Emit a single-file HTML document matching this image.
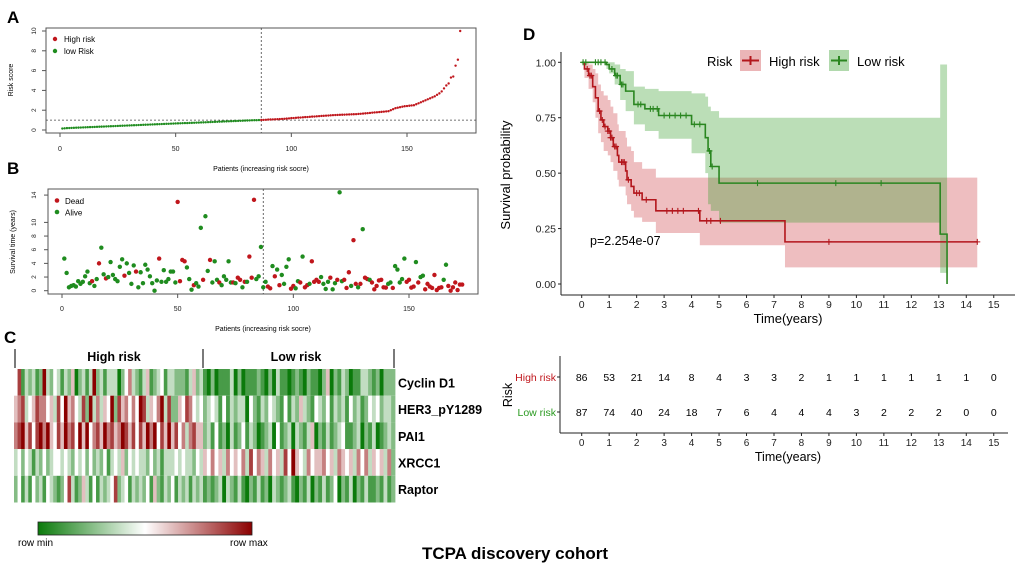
<!DOCTYPE html>
<html><head><meta charset="utf-8"><style>
body{margin:0;background:#fff}
svg{display:block;font-family:"Liberation Sans",Arial,sans-serif}
</style></head><body>
<svg id="fig" width="1020" height="570" viewBox="0 0 1020 570" xmlns="http://www.w3.org/2000/svg">
<rect width="1020" height="570" fill="#fff"/>
<g id="gA"></g>
<g id="gB"></g>
<g id="gC"></g>
<g id="gD"></g>
<g id="gT"></g>
<text x="515" y="559" text-anchor="middle" font-size="17" font-weight="bold">TCPA discovery cohort</text>
</svg>
<script>
// ---------- data ----------
const riskScores=[0.15,0.17,0.19,0.2,0.21,0.22,0.23,0.24,0.25,0.26,0.27,0.28,0.29,0.3,0.31,0.32,0.33,0.34,0.35,0.36,0.37,0.38,0.39,0.4,0.41,0.42,0.43,0.44,0.45,0.46,0.47,0.48,0.49,0.5,0.51,0.52,0.53,0.54,0.55,0.56,0.57,0.58,0.59,0.6,0.61,0.62,0.63,0.64,0.65,0.66,0.67,0.68,0.69,0.7,0.7,0.71,0.72,0.73,0.74,0.75,0.76,0.77,0.78,0.79,0.8,0.81,0.82,0.83,0.84,0.85,0.86,0.87,0.88,0.89,0.9,0.91,0.92,0.93,0.94,0.95,0.96,0.97,0.98,0.99,0.99,1.0,
1.01,1.02,1.03,1.05,1.06,1.07,1.08,1.09,1.1,1.12,1.13,1.15,1.17,1.2,
1.21,1.23,1.25,1.26,1.28,1.3,1.31,1.33,1.35,1.36,1.38,1.4,1.42,1.43,1.45,1.46,1.48,1.5,
1.51,1.52,1.53,1.54,1.55,1.56,1.57,1.58,1.59,1.6,
1.62,1.64,1.66,1.68,1.7,1.72,1.75,1.77,1.79,1.81,1.83,1.85,1.88,1.9,
2.0,2.1,2.2,2.25,2.3,2.35,2.4,2.42,2.45,2.48,2.5,
2.6,2.7,2.8,2.9,3.0,3.1,3.2,3.3,3.4,3.55,3.7,3.9,4.2,4.5,4.7,5.3,5.4,6.5,7.1,10];
const cutoffIndex=87;
const cutoffScore=1.0;
const xTicksA=[0,50,100,150];
const yTicksA=[0,2,4,6,8,10];
const survTimes=[4.7,2.6,.5,.7,.8,.6,1.4,1.0,1.3,2.1,2.8,1.1,1.4,.7,1.7,4.0,6.3,2.4,1.8,2.0,4.2,2.3,1.7,1.4,3.5,4.6,2.2,4.0,2.6,1.0,3.7,2.8,.5,2.7,1.1,3.8,3.1,2.1,1.1,0,1.5,4.7,1.3,3.0,1.3,1.7,2.8,2.8,1.2,13,1.4,4.5,4.3,3.4,1.7,.15,.8,1.1,.6,9.2,1.6,10.9,2.9,4.5,1.2,4.3,1.6,1.2,.8,2.1,1.6,4.3,1.2,1.2,1.1,1.9,1.6,.5,1.3,1.3,5.0,1.9,13.3,1.7,2.1,6.4,.5,
1.3,.6,.35,3.6,2.1,3.1,.8,2.3,1.0,3.5,4.6,.3,.7,.35,1.4,1.2,5.0,.5,.8,1.0,4.3,1.3,1.6,1.3,2.0,1.0,.25,1.3,1.9,.2,1.1,1.6,14.4,1.4,1.6,.4,2.7,.7,7.4,1.0,.5,1.0,9.0,1.9,1.7,1.6,1.2,.2,.7,1.5,1.6,.5,.45,1.0,1.2,.4,3.6,3.1,1.2,1.7,4.7,1.3,1.6,.45,.6,4.2,1.2,2.0,2.2,.2,1.0,.6,.4,2.3,.1,.4,.5,1.6,3.8,.7,0,.5,1.2,.1,.9,.9];
const survStatus=(
"aaaaaaaaaa"+"aadaadaada"+"aaaaaadaaa"+"adaaaaaaaa"+"adaaaaaaad"+"dddaaadaaa"+"daadaaadaa"+"aaadaddada"+"dddaaaa"+
"addadadaaa"+"addaadadda"+"ddddaaaada"+"adaadddadd"+"adaddadddd"+"dddaadaaaa"+"addddadaad"+"dddddddaad"+"dddddd").split("");
const yTicksB=[0,2,4,6,8,10,14];
const heatGenes=["Cyclin D1","HER3_pY1289","PAI1","XRCC1","Raptor"];
const heatRows=[
"47132312832431325023138231333024632135123413322213523|10201113020111210203110121021102502132011332120222",
"56734576645374856437283635482756464873546837225476434|23431413233042132432141325321432413231423124342332",
"67857478685475867485846758675687574758684758574636755|23141203124132012304123032135021312341123021301232",
"34243132423443432434242324134352434332423133343433243|54645364546374653645374854364556453654536463545362",
"24131423143212473125314132347234132324152132413231323|12123032131021312032123102130213124021302131121312"];
const hiT=[0,0.1,0.25,0.4,0.5,0.6,0.7,0.8,0.95,1.05,1.15,1.3,1.35,1.6,1.65,1.8,1.9,2.2,2.7,4.3,7.4];
const hiS=[1,.97,.94,.89,.84,.78,.74,.71,.69,.66,.62,.58,.55,.51,.47,.44,.41,.38,.33,.285,.19];
const hiUp=[1,1,.99,.97,.95,.9,.87,.85,.83,.8,.77,.72,.69,.66,.62,.6,.55,.52,.48,.48,.48];
const hiLo=[1,.93,.88,.82,.75,.68,.64,.6,.58,.55,.51,.47,.44,.4,.36,.33,.3,.28,.23,.175,.075];
const hiEnd=14.4;
const loT=[0,0.9,1.0,1.2,1.4,1.6,1.9,2.3,2.8,4.0,4.5,4.6,4.7,5.0,13.05,13.3];
const loS=[1,.99,.97,.94,.90,.87,.81,.79,.76,.72,.66,.60,.53,.455,.225,0];
const loUp=[1,1,1,.99,.97,.96,.89,.88,.87,.86,.845,.8,.78,.75,.99,.99];
const loLo=[1,.97,.95,.9,.83,.78,.72,.69,.655,.59,.5,.36,.33,.277,.05,0];
const loEnd=13.3;
const hiCens=[0.2,0.3,0.35,0.65,0.75,0.85,0.95,1.0,1.05,1.1,1.2,1.25,1.45,1.5,1.55,1.7,2.0,2.1,2.35,3.1,3.3,3.5,3.7,4.25,4.55,4.7,5.05,9.0,14.4];
const loCens=[0.05,0.15,0.5,0.6,0.7,0.85,1.1,1.25,1.3,1.45,1.5,2.05,2.15,2.5,2.6,2.75,3.0,3.2,3.4,3.6,3.8,4.1,4.3,4.65,4.75,6.4,9.25,10.9];
const kmXTicks=[0,1,2,3,4,5,6,7,8,9,10,11,12,13,14,15];
const kmYTicks=[0,0.25,0.5,0.75,1];
const atRiskHigh=[86,53,21,14,8,4,3,3,2,1,1,1,1,1,1,0];
const atRiskLow=[87,74,40,24,18,7,6,4,4,4,3,2,2,2,0,0];

// ---------- helpers ----------
const NS="http://www.w3.org/2000/svg";
function mk(parent,tag,attrs,txt){const e=document.createElementNS(NS,tag);for(const k in attrs)e.setAttribute(k,attrs[k]);if(txt!==undefined)e.textContent=txt;parent.appendChild(e);return e;}
const RED="#c0161c",GREEN="#1f8c1f";

// ---------- Panel A ----------
(function(){
const g=document.getElementById('gA');
const xA=i=>60+i*2.3133, yA=v=>130-v*9.9;
mk(g,'text',{x:7,y:23,'font-size':17,'font-weight':'bold',},'A');
mk(g,'rect',{x:46,y:28,width:430,height:105,fill:'none',stroke:'#555','stroke-width':1,});
xTicksA.forEach(t=>{mk(g,'line',{x1:xA(t),x2:xA(t),y1:133,y2:137,stroke:'#555'});
 const tx=mk(g,'text',{x:xA(t),y:151,'font-size':7,'text-anchor':'middle',fill:'#222'},t);
 
 });
yTicksA.forEach(t=>{mk(g,'line',{x1:42,x2:46,y1:yA(t),y2:yA(t),stroke:'#555'});
 const tx=mk(g,'text',{x:36,y:yA(t),'font-size':6.5,'text-anchor':'middle',transform:`rotate(-90 36 ${yA(t)})`,fill:'#222'},t);
 
 });
mk(g,'text',{x:13,y:80,'font-size':7,'text-anchor':'middle',transform:'rotate(-90 13 80)',},'Risk score');
mk(g,'text',{x:261,y:171,'font-size':7,'text-anchor':'middle',},'Patients (increasing risk socre)');
mk(g,'line',{x1:46,x2:476,y1:yA(cutoffScore),y2:yA(cutoffScore),stroke:'#444','stroke-dasharray':'2,2','stroke-width':0.8});
mk(g,'line',{x1:xA(cutoffIndex),x2:xA(cutoffIndex),y1:28,y2:133,stroke:'#444','stroke-dasharray':'2,2','stroke-width':0.8});
riskScores.forEach((v,i)=>{const c=mk(g,'circle',{cx:xA(i+1),cy:yA(v),r:1.2,fill:(i+1)<=86?GREEN:RED});
 
 });
mk(g,'circle',{cx:55,cy:39,r:2.2,fill:RED});mk(g,'circle',{cx:55,cy:51,r:2.2,fill:GREEN});
mk(g,'text',{x:64,y:42,'font-size':8,},'High risk');
mk(g,'text',{x:64,y:54,'font-size':8,},'low Risk');
})();

// ---------- Panel B ----------
(function(){
const g=document.getElementById('gB');
const xB=i=>62+i*2.3133, yB=v=>290.7-v*6.83;
mk(g,'text',{x:7,y:174,'font-size':17,'font-weight':'bold',},'B');
mk(g,'rect',{x:48,y:189,width:430,height:105,fill:'none',stroke:'#555',});
xTicksA.forEach(t=>{mk(g,'line',{x1:xB(t),x2:xB(t),y1:294,y2:298,stroke:'#555'});
 const tx=mk(g,'text',{x:xB(t),y:311,'font-size':7,'text-anchor':'middle',fill:'#222'},t);
 
 });
yTicksB.forEach(t=>{mk(g,'line',{x1:44,x2:48,y1:yB(t),y2:yB(t),stroke:'#555'});
 const tx=mk(g,'text',{x:36,y:yB(t),'font-size':6.5,'text-anchor':'middle',transform:`rotate(-90 36 ${yB(t)})`,fill:'#222'},t);
 
 });
mk(g,'text',{x:15,y:242,'font-size':7,'text-anchor':'middle',transform:'rotate(-90 15 242)',},'Survival time (years)');
mk(g,'text',{x:263,y:331,'font-size':7,'text-anchor':'middle',},'Patients (increasing risk socre)');
mk(g,'line',{x1:xB(cutoffIndex),x2:xB(cutoffIndex),y1:189,y2:294,stroke:'#444','stroke-dasharray':'2,2','stroke-width':0.8});
survTimes.forEach((v,i)=>{const c=mk(g,'circle',{cx:xB(i+1),cy:yB(v),r:2.2,fill:survStatus[i]==='d'?RED:GREEN});
 
 });
mk(g,'circle',{cx:57,cy:200.5,r:2.3,fill:RED});mk(g,'circle',{cx:57,cy:212,r:2.3,fill:GREEN});
mk(g,'text',{x:65,y:204,'font-size':8,},'Dead');
mk(g,'text',{x:65,y:215.5,'font-size':8,},'Alive');
})();

// ---------- Panel C ----------
(function(){
const g=document.getElementById('gC');
mk(g,'text',{x:4,y:343,'font-size':17,'font-weight':'bold',},'C');
function col(v){const t=v/8;let r,gg,b;
 if(t<0.5){const u=t/0.5;r=11+(255-11)*u;gg=122+(255-122)*u;b=11+(255-11)*u;}
 else{const u=(t-0.5)/0.5;r=255+(139-255)*u;gg=255+(0-255)*u;b=255+(0-255)*u;}
 return `rgb(${r|0},${gg|0},${b|0})`;}
const y0=369,rh=26.7;
const halves=[[14,203],[203,395]];
heatRows.forEach((row,ri)=>{
 row.split('|').forEach((part,hi)=>{const a=halves[hi][0],b=halves[hi][1],w=(b-a)/part.length;
  for(let j=0;j<part.length;j++){const c=mk(g,'rect',{x:a+j*w,y:y0+ri*rh,width:w+0.4,height:rh,fill:col(+part[j])});
   
   }});
 const lb=mk(g,'text',{x:398,y:y0+ri*rh+rh/2+5,'font-size':12.5,'font-weight':'bold'},heatGenes[ri]);
 
 });
[15,203,394].forEach(x=>mk(g,'line',{x1:x,x2:x,y1:349,y2:368,stroke:'#333','stroke-width':1.3}));
mk(g,'text',{x:114,y:361,'font-size':12.5,'font-weight':'bold','text-anchor':'middle',},'High risk');
mk(g,'text',{x:296,y:361,'font-size':12.5,'font-weight':'bold','text-anchor':'middle',},'Low risk');
const defs=mk(g,'defs',{});const lg=mk(defs,'linearGradient',{id:'cb'});
mk(lg,'stop',{offset:'0','stop-color':'#0b7a0b'});mk(lg,'stop',{offset:'0.5','stop-color':'#ffffff'});mk(lg,'stop',{offset:'1','stop-color':'#8b0000'});
mk(g,'rect',{x:38,y:522,width:214,height:13,fill:'url(#cb)',stroke:'#222','stroke-width':0.8,});
mk(g,'text',{x:18,y:546,'font-size':10,},'row min');
mk(g,'text',{x:230,y:546,'font-size':10,},'row max');
})();

// ---------- Panel D ----------
(function(){
const g=document.getElementById('gD');
const X=t=>581.7+t*27.47, Y=s=>284-s*221.7;
mk(g,'text',{x:523,y:40,'font-size':17,'font-weight':'bold',},'D');
function band(T,U,L,end,fill,name){let top=[],bot=[];
 for(let i=0;i<T.length;i++){const t2=i<T.length-1?T[i+1]:end;top.push(`${X(T[i])},${Y(U[i])}`,`${X(t2)},${Y(U[i])}`);bot.push(`${X(T[i])},${Y(L[i])}`,`${X(t2)},${Y(L[i])}`);}
 const p=mk(g,'polygon',{points:top.concat(bot.reverse()).join(' '),fill:fill});
 
 }
function step(T,S,end,color,name){let d=`M${X(T[0])},${Y(S[0])}`;
 for(let i=1;i<T.length;i++){d+=` H${X(T[i])} V${Y(S[i])}`;}d+=` H${X(end)}`;
 const p=mk(g,'path',{d:d,fill:'none',stroke:color,'stroke-width':1.6});
 
 }
function sAt(T,S,t){let s=S[0];for(let i=0;i<T.length;i++)if(T[i]<=t)s=S[i];return s;}
function cens(T,S,C,color,name){C.forEach(t=>{const x=X(t),y=Y(sAt(T,S,t));
 const p=mk(g,'path',{d:`M${x-3},${y}H${x+3}M${x},${y-3}V${y+3}`,stroke:color,'stroke-width':1.1});
 
 });}
band(hiT,hiUp,hiLo,hiEnd,'rgba(205,70,75,0.35)','ci-band-high-risk');
band(loT,loUp,loLo,loEnd,'rgba(60,160,50,0.35)','ci-band-low-risk');
step(hiT,hiS,hiEnd,'#b3161c','km-line-high-risk');
step(loT,loS,loEnd,'#2a8620','km-line-low-risk');
cens(hiT,hiS,hiCens,'#b3161c','censor-mark-high');
cens(loT,loS,loCens,'#2a8620','censor-mark-low');
mk(g,'line',{x1:561,x2:561,y1:52,y2:295,stroke:'#222','stroke-width':1});
mk(g,'line',{x1:561,x2:1015,y1:295,y2:295,stroke:'#222','stroke-width':1});
kmXTicks.forEach(t=>{mk(g,'line',{x1:X(t),x2:X(t),y1:295,y2:298,stroke:'#222'});
 const tx=mk(g,'text',{x:X(t),y:308,'font-size':10.5,'text-anchor':'middle',fill:'#222'},t);
 
 });
kmYTicks.forEach(t=>{mk(g,'line',{x1:558,x2:561,y1:Y(t),y2:Y(t),stroke:'#222'});
 const tx=mk(g,'text',{x:556,y:Y(t)+4,'font-size':10.5,'text-anchor':'end',fill:'#222'},t.toFixed(2));
 
 });
mk(g,'text',{x:788,y:323,'font-size':13,'text-anchor':'middle',},'Time(years)');
mk(g,'text',{x:510,y:175,'font-size':13,'text-anchor':'middle',transform:'rotate(-90 510 175)',},'Survival probability');
mk(g,'text',{x:590,y:245,'font-size':12.5,},'p=2.254e-07');
mk(g,'text',{x:707,y:66,'font-size':13,},'Risk');
mk(g,'rect',{x:740,y:50,width:21,height:21,fill:'rgba(205,70,75,0.4)'});
mk(g,'path',{d:'M742,60.5H759M750.5,56V65',stroke:'#b3161c','stroke-width':2});
mk(g,'text',{x:769,y:66,'font-size':13,},'High risk');
mk(g,'rect',{x:829,y:50,width:20,height:21,fill:'rgba(60,160,50,0.4)'});
mk(g,'path',{d:'M831,60.5H847M839,56V65',stroke:'#2a8620','stroke-width':2});
mk(g,'text',{x:857,y:66,'font-size':13,},'Low risk');
})();

// ---------- Risk table ----------
(function(){
const g=document.getElementById('gT');
const X=t=>581.7+t*27.47;
mk(g,'line',{x1:560,x2:560,y1:356,y2:433,stroke:'#222'});
mk(g,'line',{x1:560,x2:1008,y1:433,y2:433,stroke:'#222'});
[377,412].forEach(y=>mk(g,'line',{x1:557,x2:560,y1:y,y2:y,stroke:'#222'}));
mk(g,'text',{x:556,y:381,'font-size':10.5,'text-anchor':'end',fill:'#c0161c',},'High risk');
mk(g,'text',{x:556,y:416,'font-size':10.5,'text-anchor':'end',fill:'#2a9a20',},'Low risk');
mk(g,'text',{x:512,y:395,'font-size':12.5,'text-anchor':'middle',transform:'rotate(-90 512 395)',},'Risk');
atRiskHigh.forEach((v,i)=>{const t=mk(g,'text',{x:X(i),y:381,'font-size':10.5,'text-anchor':'middle'},v);
 
 });
atRiskLow.forEach((v,i)=>{const t=mk(g,'text',{x:X(i),y:416,'font-size':10.5,'text-anchor':'middle'},v);
 
 });
kmXTicks.forEach(t=>{mk(g,'line',{x1:X(t),x2:X(t),y1:433,y2:436,stroke:'#222'});
 const tx=mk(g,'text',{x:X(t),y:446,'font-size':10,'text-anchor':'middle',fill:'#222'},t);
 
 });
mk(g,'text',{x:788,y:461,'font-size':12.5,'text-anchor':'middle',},'Time(years)');
})();
</script>
</body></html>
